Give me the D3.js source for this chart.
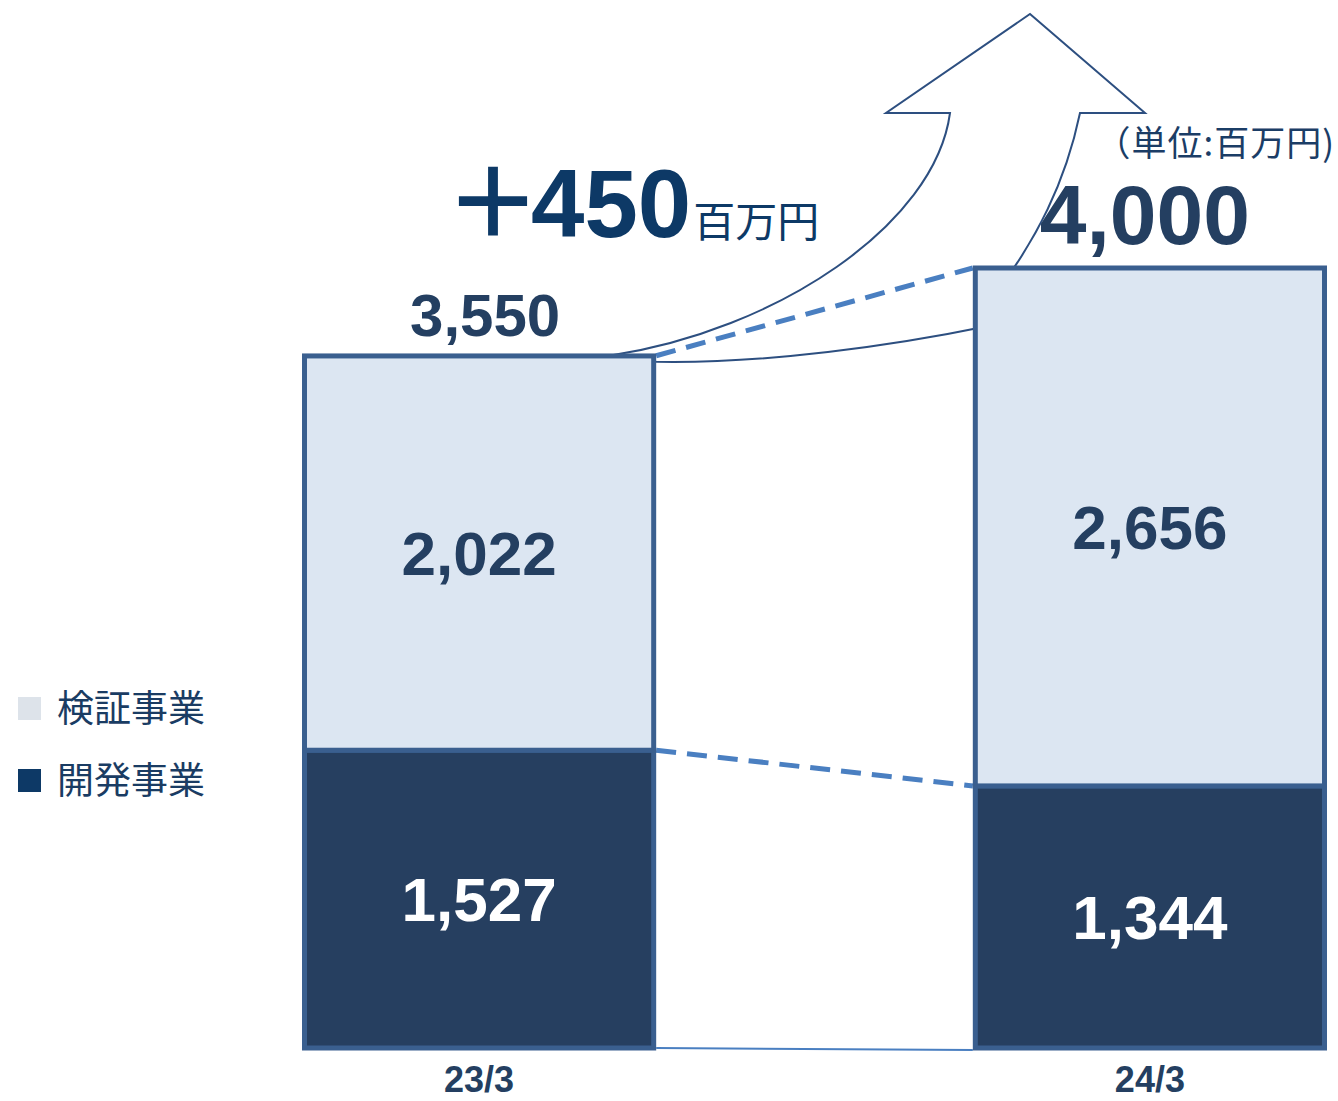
<!DOCTYPE html>
<html>
<head>
<meta charset="utf-8">
<script src="https://cdn.jsdelivr.net/npm/d3@7"></script>
<style>
  body { margin: 0; background: #fff; }
  svg { display: block; }
  .num { font-family: "Liberation Sans", Arial, sans-serif; font-weight: bold; }
  .jp { font-family: "Noto Sans CJK JP", "Noto Sans", sans-serif; }
</style>
</head>
<body>
<svg id="chart" width="1338" height="1101"></svg>
<script>
// data (百万円)
const periods = ["23/3", "24/3"];
const kaihatsu = [1527, 1344];   // 開発事業
const kensho = [2022, 2656];     // 検証事業
const totals = [3550, 4000];
const increase = "450";
const seriesNames = ["検証事業", "開発事業"];

const lightFill = "#dce6f2";
const darkFill = "#263f60";
const barStroke = "#3a5f8f";
const navy = "#243f61";

const svg = d3.select("#chart");

const x = d3.scaleBand()
  .domain(periods)
  .range([302, 1327])
  .paddingInner(0.472)
  .paddingOuter(0);

const y = d3.scaleLinear()
  .domain([0, 4000])
  .range([1048, 268]);

const bw = x.bandwidth();

// stacked rows
const rows = periods.map((p, i) => ({
  period: p,
  dev: kaihatsu[i],
  ver: kensho[i],
  total: totals[i]
}));

// --- curved arrow behind the bars ---
const tailX = x(periods[0]) + bw;
const top1 = y(totals[0]);
const top2 = y(totals[1]);
const left2 = x(periods[1]);

const ap = d3.path();
ap.moveTo(tailX - 47, top1);
ap.bezierCurveTo(tailX + 120, top1 - 25, 935, 225, 950, 113);
ap.lineTo(886, 113);
ap.lineTo(1030, 14);
ap.lineTo(1145, 113);
ap.lineTo(1080, 113);
ap.bezierCurveTo(1065, 185, 1035, 240, left2 + 27, top2 + 20);
ap.lineTo(left2 + 17, top1 - 30);
ap.bezierCurveTo(left2 - 80, top1 - 10, tailX + 110, top1 + 8, tailX, top1 + 6);
ap.closePath();

svg.append("path")
  .attr("d", ap.toString())
  .attr("fill", "#fff")
  .attr("stroke", "#2d4f80")
  .attr("stroke-width", 2);

// --- connector lines between bars ---
const connectors = [
  { y1: y(totals[0]), y2: y(totals[1]), dash: true },
  { y1: y(kaihatsu[0]), y2: y(kaihatsu[1]), dash: true },
  { y1: y(0), y2: y(0) + 2, dash: false }
];

svg.selectAll(".conn")
  .data(connectors)
  .enter()
  .append("line")
  .attr("class", "conn")
  .attr("x1", tailX)
  .attr("x2", left2)
  .attr("y1", d => d.y1)
  .attr("y2", d => d.y2)
  .attr("stroke", "#4a7fc1")
  .attr("stroke-width", d => d.dash ? 5 : 2)
  .attr("stroke-dasharray", d => d.dash ? "20,11" : null);

// --- bars ---
const bars = svg.selectAll(".bar")
  .data(rows)
  .enter()
  .append("g")
  .attr("class", "bar");

bars.append("rect")
  .attr("x", d => x(d.period) + 2.5)
  .attr("y", d => y(d.dev))
  .attr("width", bw - 5)
  .attr("height", d => y(0) - y(d.dev))
  .attr("fill", darkFill)
  .attr("stroke", barStroke)
  .attr("stroke-width", 5);

bars.append("rect")
  .attr("x", d => x(d.period) + 2.5)
  .attr("y", d => y(d.dev + d.ver))
  .attr("width", bw - 5)
  .attr("height", d => y(d.dev) - y(d.dev + d.ver))
  .attr("fill", lightFill)
  .attr("stroke", barStroke)
  .attr("stroke-width", 5);

// value labels inside the segments
bars.append("text")
  .attr("class", "num")
  .attr("x", d => x(d.period) + bw / 2)
  .attr("y", d => (y(0) + y(d.dev)) / 2)
  .attr("dy", "0.36em")
  .attr("text-anchor", "middle")
  .attr("font-size", 62)
  .attr("fill", "#fff")
  .text(d => d3.format(",")(d.dev));

bars.append("text")
  .attr("class", "num")
  .attr("x", d => x(d.period) + bw / 2)
  .attr("y", d => (y(d.dev) + y(d.dev + d.ver)) / 2)
  .attr("dy", "0.36em")
  .attr("text-anchor", "middle")
  .attr("font-size", 62)
  .attr("fill", navy)
  .text(d => d3.format(",")(d.ver));

// totals above bars
bars.append("text")
  .attr("class", "num")
  .attr("x", (d, i) => x(d.period) + bw / 2 + (i === 0 ? 6 : -5))
  .attr("y", (d, i) => y(d.total) - (i === 0 ? 20 : 24))
  .attr("text-anchor", "middle")
  .attr("font-size", (d, i) => i === 0 ? 60 : 84)
  .attr("fill", navy)
  .text(d => d3.format(",")(d.total));

// category labels
svg.selectAll(".xlab")
  .data(periods)
  .enter()
  .append("text")
  .attr("class", "num xlab")
  .attr("x", d => x(d) + bw / 2)
  .attr("y", 1092)
  .attr("text-anchor", "middle")
  .attr("font-size", 36)
  .attr("fill", navy)
  .text(d => d);

// increase annotation
const inc = svg.append("text")
  .attr("x", 445)
  .attr("y", 237)
  .attr("fill", "#0d3966");
inc.append("tspan")
  .attr("class", "jp")
  .attr("font-weight", "bold")
  .attr("font-size", 96)
  .text("＋");
inc.append("tspan")
  .attr("class", "num")
  .attr("font-size", 96)
  .attr("dx", -10)
  .text(increase);
inc.append("tspan")
  .attr("class", "jp")
  .attr("font-size", 42)
  .attr("dx", 2)
  .text("百万円");

// unit
svg.append("text")
  .attr("class", "jp")
  .attr("x", 1335)
  .attr("y", 156)
  .attr("text-anchor", "end")
  .attr("font-size", 35)
  .attr("letter-spacing", 1)
  .attr("fill", "#1b3d66")
  .text("（単位:百万円)");

// legend
const legendColors = ["#dde3ea", "#0d3966"];
const legend = svg.selectAll(".leg")
  .data(seriesNames)
  .enter()
  .append("g")
  .attr("class", "leg")
  .attr("transform", (d, i) => `translate(18, ${697 + i * 72})`);

legend.append("rect")
  .attr("width", 23)
  .attr("height", 23)
  .attr("fill", (d, i) => legendColors[i]);

legend.append("text")
  .attr("class", "jp")
  .attr("x", 39)
  .attr("y", 12)
  .attr("dy", "0.36em")
  .attr("font-size", 37)
  .attr("fill", "#1a3c63")
  .text(d => d);
</script>
</body>
</html>
